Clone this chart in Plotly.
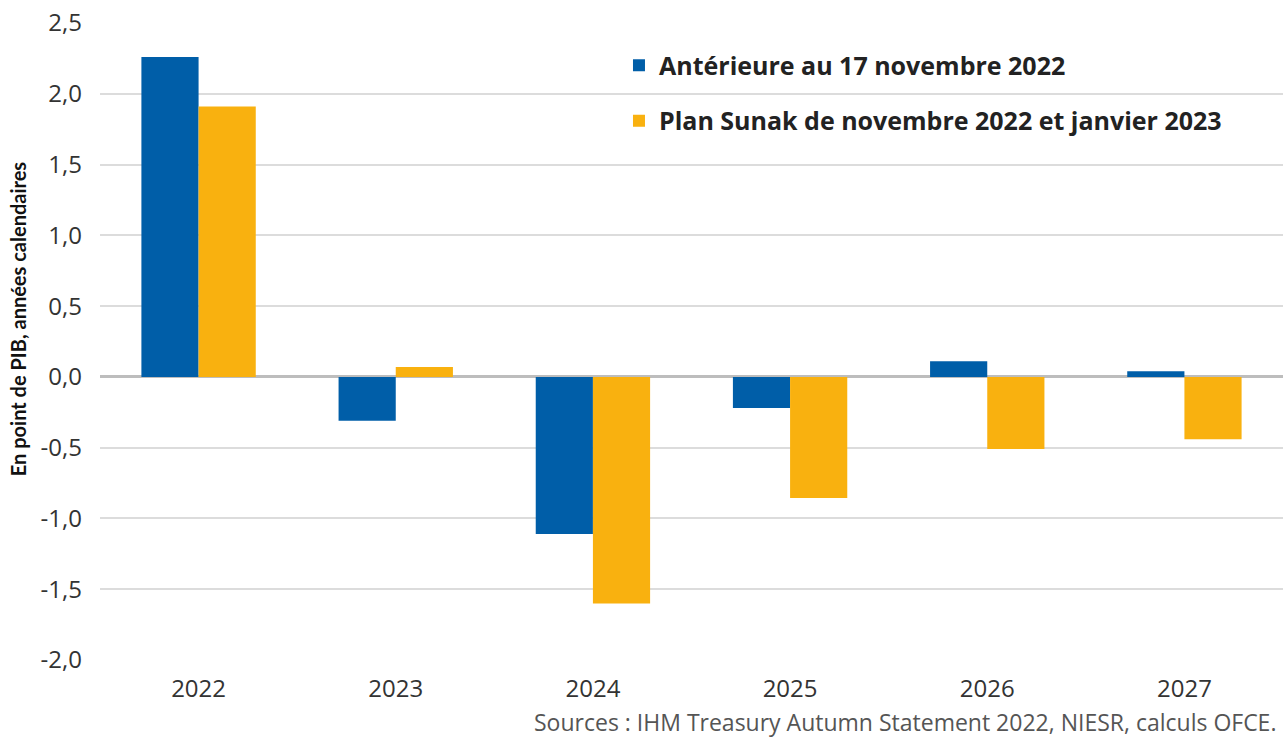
import plotly.graph_objects as go

years = ["2022", "2023", "2024", "2025", "2026", "2027"]
anterieure = [2.26, -0.31, -1.11, -0.22, 0.11, 0.04]
sunak = [1.91, 0.07, -1.60, -0.855, -0.51, -0.44]
series_names = ["Antérieure au 17 novembre 2022", "Plan Sunak de novembre 2022 et janvier 2023"]
y_ticks = [-2.0, -1.5, -1.0, -0.5, 0.0, 0.5, 1.0, 1.5, 2.0, 2.5]
y_ticklabels = ["-2,0", "-1,5", "-1,0", "-0,5", "0,0", "0,5", "1,0", "1,5", "2,0", "2,5"]

fig = go.Figure()
fig.add_trace(go.Bar(x=years, y=anterieure, name=series_names[0],
                     marker=dict(color="#005EA8", line=dict(width=0)), legendgroup="a"))
fig.add_trace(go.Bar(x=years, y=sunak, name=series_names[1],
                     marker=dict(color="#F9B10F", line=dict(width=0)), legendgroup="b"))

fig.update_layout(
    width=1283, height=739,
    margin=dict(l=100, r=0, t=23, b=79),
    paper_bgcolor="white", plot_bgcolor="white",
    barmode="group", bargap=0.42, bargroupgap=0,
    font=dict(family="Open Sans, sans-serif", color="#333333"),
    showlegend=True,
    legend=dict(x=0.4387, y=0.9695, xanchor="left", yanchor="top",
                font=dict(size=25, color="#222222", family="Open Sans, sans-serif", weight="bold"),
                tracegroupgap=20, bgcolor="rgba(0,0,0,0)", itemwidth=30),
    xaxis=dict(type="category", showgrid=False, ticks="", showline=False,
               ticklabelstandoff=12,
               tickfont=dict(size=24, color="#333333")),
    yaxis=dict(range=[-2.0, 2.5], tickvals=y_ticks, ticktext=y_ticklabels,
               showgrid=True, gridcolor="#dcdcdc", gridwidth=2,
               zeroline=True, zerolinecolor="#bdbdbd", zerolinewidth=3,
               ticks="", ticklen=0, ticklabelstandoff=17, automargin=False,
               ticklabeloverflow="allow",
               tickfont=dict(size=24, color="#333333")),
    annotations=[
        dict(text="En point de PIB, années calendaires", textangle=-90,
             xref="paper", yref="paper", x=-0.0693, y=0.535, xanchor="center", yanchor="middle",
             showarrow=False, font=dict(size=20, color="#111111", family="Lato, sans-serif", weight="bold")),
        dict(text="Sources : IHM Treasury Autumn Statement 2022, NIESR, calculs OFCE.",
             xref="paper", yref="paper", x=0.9958, y=-0.0973, xanchor="right", yanchor="middle",
             showarrow=False, font=dict(size=23, color="#555555", family="Open Sans, sans-serif")),
    ],
)

fig.write_html("out.html", config={"displayModeBar": False},
               post_script="document.body.style.margin='0';document.body.style.overflow='hidden';")
